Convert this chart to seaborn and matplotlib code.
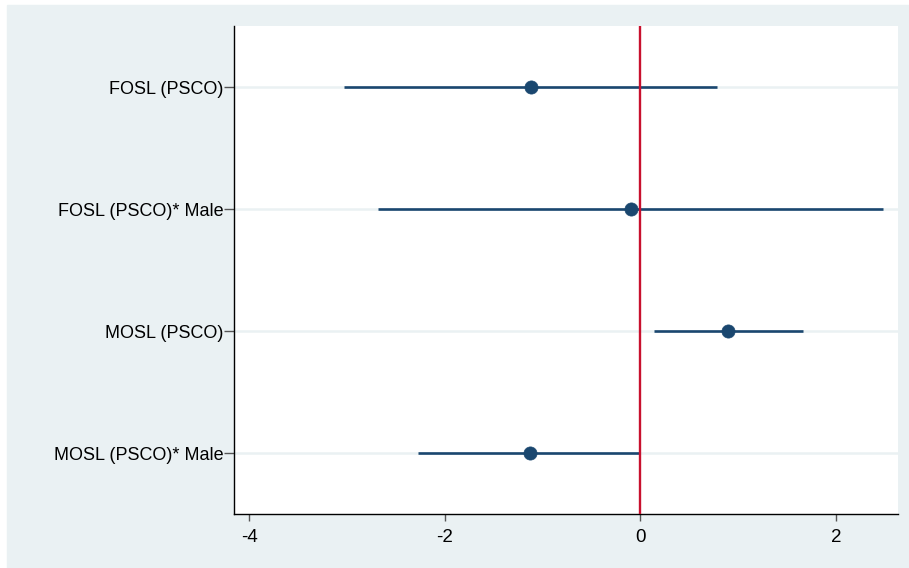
import pandas as pd
import seaborn as sns
import matplotlib.pyplot as plt
from matplotlib.patches import Rectangle

# Coefficients and 95% CIs
terms = ["FOSL (PSCO)", "FOSL (PSCO)* Male", "MOSL (PSCO)", "MOSL (PSCO)* Male"]
coef = [-1.12, -0.10, 0.90, -1.13]
ci_low = [-3.03, -2.68, 0.14, -2.27]
ci_high = [0.78, 2.48, 1.66, 0.00]
xticks = [-4, -2, 0, 2]

NAVY = "#1A476F"
PANEL = "#EAF1F3"

df = pd.DataFrame({"term": terms, "coef": coef, "lo": ci_low, "hi": ci_high})

sns.set_style("white")
plt.rcParams["font.family"] = ["Liberation Sans", "DejaVu Sans"]

fig = plt.figure(figsize=(9.09, 5.68), dpi=100, facecolor="white")
# Stata-style graph region
fig.patches.append(Rectangle((7 / 909, 0), 1 - 7 / 909, 1 - 5 / 568,
                             transform=fig.transFigure, color=PANEL, zorder=-10))
ax = fig.add_axes([234.4 / 909, 54 / 568, (897.7 - 234.4) / 909, (514 - 26) / 568])
ax.set_facecolor("white")

# horizontal grid lines at each term
ypos = list(range(len(terms)))
for y in ypos:
    ax.axhline(y, color=PANEL, lw=1.8, zorder=0)

ax.hlines(ypos, df["lo"], df["hi"], color=NAVY, lw=1.9, zorder=2)
ax.axvline(0, color="#C8102E", lw=1.7, zorder=3)
sns.scatterplot(x=df["coef"], y=ypos, ax=ax, color=NAVY, s=90,
                edgecolor=NAVY, linewidth=0.5, zorder=4, legend=False)

ax.set_xlim(-4.15, 2.63)
ax.set_ylim(len(terms) - 0.5, -0.5)
ax.set_yticks(ypos)
ax.set_yticklabels(terms)
ax.set_xticks(xticks)
ax.set_xticklabels([str(t) for t in xticks])
ax.set_xlabel("")
ax.set_ylabel("")

for side in ["top", "right"]:
    ax.spines[side].set_visible(False)
for side in ["left", "bottom"]:
    ax.spines[side].set_color("black")
    ax.spines[side].set_linewidth(1.0)

ax.tick_params(axis="y", left=True, length=7, width=1, color="#555555",
               labelsize=13, labelcolor="black", pad=1)
ax.tick_params(axis="x", bottom=True, length=5, width=1, color="#555555",
               labelsize=13.5, labelcolor="black", pad=6)

fig.savefig("out.png", dpi=100)
